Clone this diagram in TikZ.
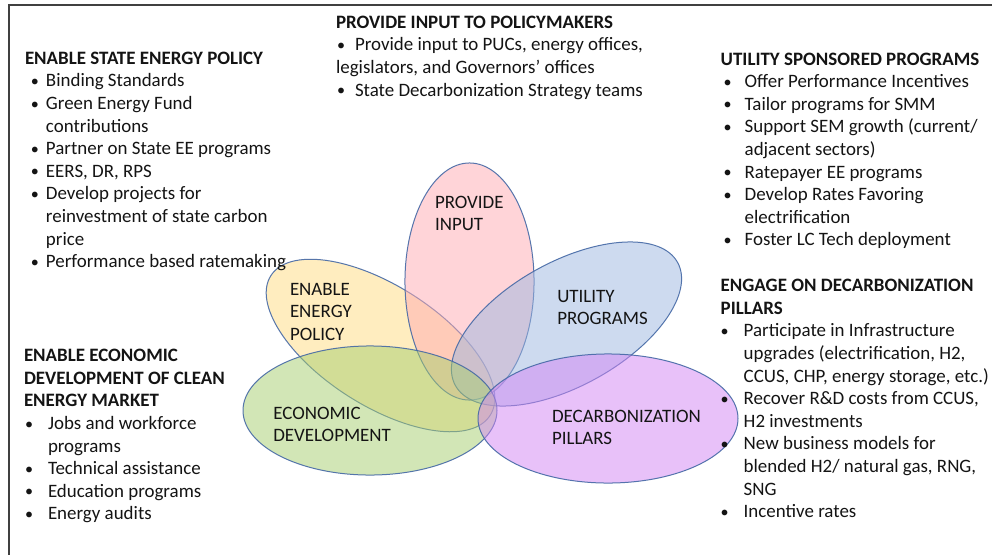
\documentclass[tikz,border=0pt]{standalone}
\usepackage{fontspec}
\setmainfont{Carlito}
\usepackage{array}
\definecolor{framec}{RGB}{64,64,64}
\definecolor{edgec}{RGB}{68,104,165}
\definecolor{pinkf}{RGB}{255,171,179}
\definecolor{yellowf}{RGB}{255,221,129}
\definecolor{greenf}{RGB}{167,207,111}
\definecolor{bluef}{RGB}{157,183,225}
\definecolor{purplef}{RGB}{211,133,245}
\definecolor{textc}{RGB}{20,20,20}
\newcommand{\bul}[2]{\makebox[#2][l]{\hspace*{#1}\raisebox{0.3pt}{\scalebox{0.85}{\textbullet}}}}
\newcommand{\hd}[1]{\multicolumn{2}{@{}l@{}}{#1}}
\begin{document}
\begin{tikzpicture}[x=0.75pt,y=-0.75pt,
  txt/.style={inner sep=0pt, outer sep=0pt, anchor=base west, text=textc,
    font=\fontsize{14.2pt}{16.95pt}\selectfont},
  petal/.style={draw=edgec, line width=0.75pt, fill opacity=0.5, draw opacity=0.9}]
\useasboundingbox (0,0) rectangle (992,554);
\fill[white] (0,0) rectangle (992,554);
\draw[framec, line width=0.9pt] (9,560) -- (9,5) -- (1000,5);
% petals
\path[petal, fill=yellowf, rotate around={-32.5:(380.5,345.5)}] (380.5,345.5) ellipse [x radius=97.5pt, y radius=45pt];
\path[petal, fill=pinkf] (469.5,281.5) ellipse [x radius=48.4pt, y radius=88.9pt];
\path[petal, fill=bluef, rotate around={29:(566.5,324)}] (566.5,324) ellipse [x radius=95.25pt, y radius=46.5pt];
\path[petal, fill=greenf] (370,410.5) ellipse [x radius=95.25pt, y radius=48.4pt];
\path[petal, fill=purplef] (608,418.5) ellipse [x radius=97.5pt, y radius=48.4pt];
% petal labels
\node[txt] (lin) at (435,208) {\begin{tabular}[t]{@{}l@{}}PROVIDE\\INPUT\end{tabular}};
\node[txt] (lpol) at (290,295) {\begin{tabular}[t]{@{}l@{}}ENABLE\\ENERGY\\POLICY\end{tabular}};
\node[txt] (lut) at (557.3,302.3) {\begin{tabular}[t]{@{}l@{}}UTILITY\\PROGRAMS\end{tabular}};
\node[txt] (leco) at (273.3,419.3) {\begin{tabular}[t]{@{}l@{}}ECONOMIC\\DEVELOPMENT\end{tabular}};
\node[txt] (ldec) at (552,422.3) {\begin{tabular}[t]{@{}l@{}}DECARBONIZATION\\PILLARS\end{tabular}};
% text blocks
\node[txt] (esp) at (25,64.3) {\begin{tabular}[t]{@{}l@{}l@{}}
\hd{\textbf{ENABLE STATE ENERGY POLICY}}\\
\bul{4.5pt}{15.75pt} & Binding Standards\\
\bul{4.5pt}{15.75pt} & Green Energy Fund\\
 & contributions\\
\bul{4.5pt}{15.75pt} & Partner on State EE programs\\
\bul{4.5pt}{15.75pt} & EERS, DR, RPS\\
\bul{4.5pt}{15.75pt} & Develop projects for\\
 & reinvestment of state carbon\\
 & price\\
\bul{4.5pt}{15.75pt} & Performance based ratemaking
\end{tabular}};
\node[txt] (pim) at (336,28.3) {\begin{tabular}[t]{@{}l@{}l@{}}
\hd{\textbf{PROVIDE INPUT TO POLICYMAKERS}}\\
\bul{0.75pt}{14.25pt} & Provide input to PUCs, energy offices,\\
\hd{legislators, and Governors’ offices}\\
\bul{0.75pt}{14.25pt} & State Decarbonization Strategy teams
\end{tabular}};
\node[txt] (usp) at (720.7,65) {\begin{tabular}[t]{@{}l@{}l@{}}
\hd{\textbf{UTILITY SPONSORED PROGRAMS}}\\
\bul{2.25pt}{18pt} & Offer Performance Incentives\\
\bul{2.25pt}{18pt} & Tailor programs for SMM\\
\bul{2.25pt}{18pt} & Support SEM growth (current/\\
 & adjacent sectors)\\
\bul{2.25pt}{18pt} & Ratepayer EE programs\\
\bul{2.25pt}{18pt} & Develop Rates Favoring\\
 & electrification\\
\bul{2.25pt}{18pt} & Foster LC Tech deployment
\end{tabular}};
\node[txt] (edp) at (720.7,291.7) {\begin{tabular}[t]{@{}l@{}l@{}}
\hd{\textbf{ENGAGE ON DECARBONIZATION}}\\
\hd{\textbf{PILLARS}}\\
\bul{0pt}{17.25pt} & Participate in Infrastructure\\
 & upgrades (electrification, H2,\\
 & CCUS, CHP, energy storage, etc.)\\
\bul{0pt}{17.25pt} & Recover R\&D costs from CCUS,\\
 & H2 investments\\
\bul{0pt}{17.25pt} & New business models for\\
 & blended H2/ natural gas, RNG,\\
 & SNG\\
\bul{0pt}{17.25pt} & Incentive rates
\end{tabular}};
\node[txt] (eed) at (24,361.7) {\begin{tabular}[t]{@{}l@{}l@{}}
\hd{\textbf{ENABLE ECONOMIC}}\\
\hd{\textbf{DEVELOPMENT OF CLEAN}}\\
\hd{\textbf{ENERGY MARKET}}\\
\bul{0.75pt}{18pt} & Jobs and workforce\\
 & programs\\
\bul{0.75pt}{18pt} & Technical assistance\\
\bul{0.75pt}{18pt} & Education programs\\
\bul{0.75pt}{18pt} & Energy audits
\end{tabular}};
\end{tikzpicture}
\end{document}
